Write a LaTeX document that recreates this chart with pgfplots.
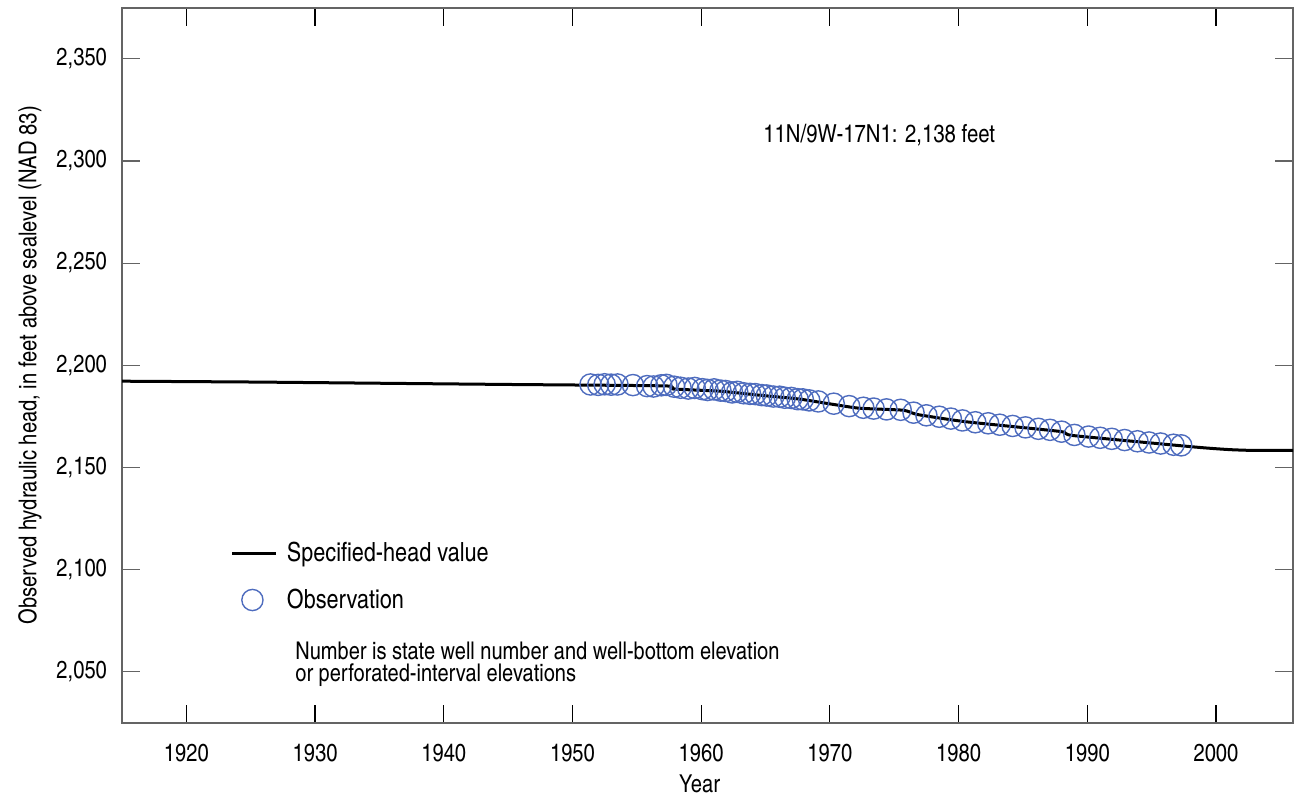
\documentclass[border=0pt]{standalone}
\usepackage{fontspec}
\setmainfont{TeX Gyre Heros Cn}
\usepackage{pgfplots}
\pgfplotsset{compat=1.18}
\definecolor{axgray}{RGB}{100,100,100}
\definecolor{obsblue}{RGB}{78,108,190}
\pgfplotsset{
  lineimg/.style={legend image code/.code={\draw[##1] (0pt,0pt) -- (22pt,0pt);}},
  circimg/.style={legend image code/.code={\draw[##1, draw=none] (0pt,0pt) -- (22pt,0pt); \draw[##1] plot[mark=o] coordinates {(10pt,0pt)};}},
}
\begin{document}
\begin{tikzpicture}
\begin{axis}[
  name=ax,
  scale only axis,
  width=585.5pt, height=357.5pt,
  xmin=1915, xmax=2006,
  ymin=2025, ymax=2375,
  xtick={1920,1930,1940,1950,1960,1970,1980,1990,2000},
  ytick={2050,2100,2150,2200,2250,2300,2350},
  tick align=inside,
  major tick length=9pt,
  xtick style={black, line width=0.6pt},
  ytick style={axgray, line width=0.6pt},
  axis line style={axgray, line width=0.8pt},
  font=\fontsize{12.3}{14}\selectfont,
  tick label style={font=\fontsize{12.3}{14}\selectfont},
  /pgf/number format/assume math mode=true,
  x tick label style={/pgf/number format/1000 sep={}, yshift=-7pt},
  y tick label style={/pgf/number format/1000 sep={,}, xshift=-4pt},
  xlabel={Year},
  ylabel={Observed hydraulic head, in feet above sealevel (NAD 83)},
  xlabel style={at={(axis description cs:0.5,0)}, anchor=base, yshift=-35pt, xshift=-4pt},
  ylabel style={at={(axis description cs:0,0.5)}, anchor=center, yshift=46pt},
  legend style={at={(axis cs:1923.43,2115.5)}, anchor=north west, draw=none, fill=none,
     inner sep=0pt, row sep=8pt, font=\fontsize{13.2}{15}\selectfont,
     cells={anchor=west},
     /tikz/every odd column/.append style={column sep=2.5pt}},
  legend cell align=left,
  clip=false,
]
\addplot[black, line width=1.5pt, smooth, tension=0.3, lineimg] coordinates {
(1915,2192.2) (1925,2191.8) (1935,2191.2) (1945,2190.6) (1957.2,2189.9)
(1957.8,2188.4) (1961.5,2187.3) (1964.6,2185.3) (1967.7,2183.4) (1972.1,2179.1)
(1975.7,2178.0) (1976.8,2175.9) (1980.5,2172.4) (1987.9,2167.6) (1988.9,2165.6)
(1998.5,2159.9) (2001.1,2158.7) (2003,2158.3) (2006,2158.3)
};
\addlegendentry{Specified-head value}
\addplot[only marks, mark=o, mark size=5.3pt, obsblue, mark options={line width=0.7pt}, circimg] coordinates {
(1951.4,2190.6) (1952.0,2190.4) (1952.5,2190.7) (1953.0,2190.5) (1953.5,2190.6)
(1954.7,2190.3) (1955.8,2189.8) (1956.3,2189.6) (1956.9,2190.2) (1957.3,2190.4)
(1957.9,2189.5) (1958.4,2189.0) (1959.0,2188.6) (1959.5,2188.9) (1960.1,2188.3)
(1960.5,2187.9) (1961.0,2188.2) (1961.5,2187.6) (1961.9,2187.4) (1962.4,2186.7)
(1962.8,2187.0) (1963.3,2186.3) (1963.8,2186.0) (1964.2,2185.9) (1964.7,2185.4)
(1965.1,2185.2) (1965.6,2184.7) (1966.1,2184.6) (1966.5,2184.1) (1967.0,2184.0)
(1967.5,2183.4) (1967.9,2183.3) (1968.4,2182.8) (1969.1,2182.3) (1970.3,2181.2)
(1971.5,2180.0) (1972.6,2179.2) (1973.4,2178.8) (1974.4,2178.4) (1975.5,2178.2)
(1976.5,2176.8) (1977.5,2175.5) (1978.5,2174.8) (1979.4,2173.9) (1980.3,2173.0)
(1981.3,2172.1) (1982.3,2171.6) (1983.2,2170.9) (1984.2,2170.3) (1985.2,2169.6)
(1986.2,2168.9) (1987.1,2168.4) (1988.0,2167.5) (1989.0,2165.9) (1990.1,2165.1)
(1991.0,2164.5) (1991.9,2164.0) (1992.9,2163.4) (1993.9,2162.8) (1994.8,2162.2)
(1995.7,2161.7) (1996.7,2161.1) (1997.3,2160.8)
};
\addlegendentry{Observation}
\node[anchor=base west, inner sep=0pt, font=\fontsize{12.4}{14}\selectfont] at (axis cs:1964.8,2309.2) {11N/9W-17N1: 2,138 feet};
\node[anchor=base west, inner sep=0pt, font=\fontsize{12.2}{14}\selectfont] at (axis cs:1928.44,2055.8) {Number is state well number and well-bottom elevation};
\node[anchor=base west, inner sep=0pt, font=\fontsize{12.2}{14}\selectfont] at (axis cs:1928.44,2045.0) {or perforated-interval elevations};
\end{axis}
\pgfresetboundingbox
\path ([xshift=-61pt,yshift=-38.15pt]ax.south west) rectangle ([xshift=0.4pt,yshift=3.85pt]ax.north east);
\end{tikzpicture}
\end{document}
